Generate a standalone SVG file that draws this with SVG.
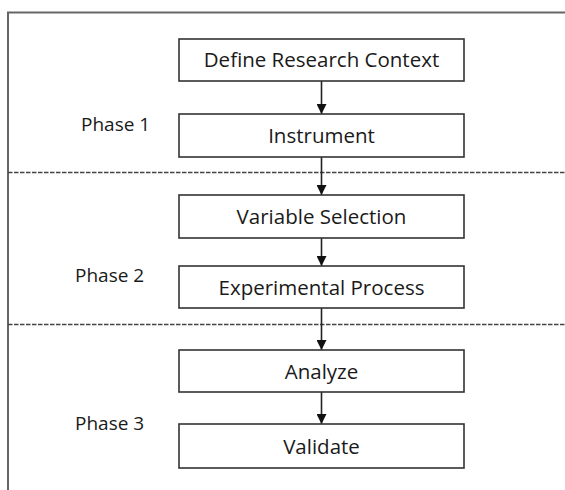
<svg xmlns="http://www.w3.org/2000/svg" width="565" height="490" viewBox="0 0 565 490">
  <style>
    .box { fill: #ffffff; stroke: #333333; stroke-width: 1.6; }
    .label { font-family: "Open Sans", "Liberation Sans", sans-serif; font-size: 20.5px; fill: #1a1a1a; text-anchor: middle; }
    .phase { font-family: "Open Sans", "Liberation Sans", sans-serif; font-size: 19px; fill: #1a1a1a; }
    .frame { fill: none; stroke: #666666; stroke-width: 2; }
    .divider { stroke: #444444; stroke-width: 1.5; stroke-dasharray: 4.5 1.5; }
    .flow { stroke: #222222; stroke-width: 1.6; fill: none; marker-end: url(#arrow); }
  </style>
  <defs>
    <marker id="arrow" markerWidth="12" markerHeight="10" refX="10" refY="5" orient="auto" markerUnits="userSpaceOnUse">
      <path d="M0,0 L10,5 L0,10 Z" fill="#111111"/>
    </marker>
  </defs>

  <rect width="565" height="490" fill="#ffffff"/>

  <!-- outer frame: top and left edges only -->
  <path class="frame" d="M8,490 L8,12.5 L565,12.5"/>

  <!-- phase dividers -->
  <line class="divider" x1="8" y1="172.5" x2="565" y2="172.5"/>
  <line class="divider" x1="8" y1="324.5" x2="565" y2="324.5"/>

  <!-- phase labels -->
  <text class="phase" x="81" y="131">Phase 1</text>
  <text class="phase" x="75" y="282">Phase 2</text>
  <text class="phase" x="75" y="430">Phase 3</text>

  <g id="connectors">
    <line class="flow" x1="321.5" y1="81" x2="321.5" y2="114"/>
    <line class="flow" x1="321.5" y1="157" x2="321.5" y2="195"/>
    <line class="flow" x1="321.5" y1="238" x2="321.5" y2="266"/>
    <line class="flow" x1="321.5" y1="308" x2="321.5" y2="350"/>
    <line class="flow" x1="321.5" y1="392" x2="321.5" y2="424"/>
  </g>

  <g id="define-context">
    <rect class="box" x="179" y="39" width="285" height="42"/>
    <text class="label" x="321.5" y="67">Define Research Context</text>
  </g>
  <g id="instrument">
    <rect class="box" x="179" y="114" width="285" height="43"/>
    <text class="label" x="321.5" y="143">Instrument</text>
  </g>
  <g id="variable-selection">
    <rect class="box" x="179" y="195" width="285" height="43"/>
    <text class="label" x="321.5" y="223.5">Variable Selection</text>
  </g>
  <g id="experimental-process">
    <rect class="box" x="179" y="266" width="285" height="42"/>
    <text class="label" x="321.5" y="294.5">Experimental Process</text>
  </g>
  <g id="analyze">
    <rect class="box" x="179" y="350" width="285" height="42"/>
    <text class="label" x="321.5" y="378.5">Analyze</text>
  </g>
  <g id="validate">
    <rect class="box" x="179" y="424" width="285" height="44"/>
    <text class="label" x="321.5" y="453.5">Validate</text>
  </g>
</svg>
